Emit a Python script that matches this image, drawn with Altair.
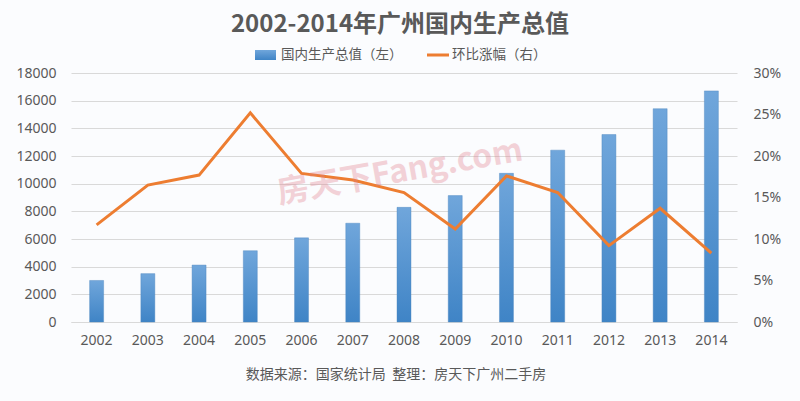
import altair as alt
import pandas as pd

years = ["2002", "2003", "2004", "2005", "2006", "2007", "2008",
         "2009", "2010", "2011", "2012", "2013", "2014"]
gdp = [3001.69, 3496.88, 4115.81, 5154.23, 6081.86, 7140.32, 8287.38,
       9138.21, 10748.28, 12423.44, 13551.21, 15420.14, 16706.87]
growth = [0.117, 0.165, 0.177, 0.252, 0.179, 0.171, 0.156,
          0.112, 0.176, 0.156, 0.092, 0.137, 0.083]
left_ticks = [0, 2000, 4000, 6000, 8000, 10000, 12000, 14000, 16000, 18000]
right_ticks = [0, 0.05, 0.10, 0.15, 0.20, 0.25, 0.30]

title_text = "2002-2014年广州国内生产总值"
legend_labels = ["国内生产总值（左）", "环比涨幅（右）"]
footer_text = "数据来源：国家统计局\u00a0\u00a0整理：房天下广州二手房"
watermark_text = "房天下Fang.com"

FONT = "Noto Sans"
CJK = "Noto Sans CJK SC"
GRAY = "#595959"
BLUE_TOP = "#70A6DB"
BLUE_BOT = "#3F84C6"
ORANGE = "#ED7D31"

df = pd.DataFrame({"年份": years, "国内生产总值": gdp, "环比涨幅": growth})

base = alt.Chart(df).encode(
    x=alt.X("年份:O",
            scale=alt.Scale(paddingInner=0, paddingOuter=0),
            axis=alt.Axis(title=None, labelAngle=0, ticks=False,
                          domainColor="#D9D9D9", labelFontSize=14,
                          labelColor=GRAY, labelFont=FONT, labelPadding=11))
)

grad = alt.Gradient(
    gradient="linear",
    stops=[alt.GradientStop(color=BLUE_TOP, offset=0),
           alt.GradientStop(color=BLUE_BOT, offset=1)],
    x1=0, x2=0, y1=0, y2=1,
)

bars = base.mark_bar(size=14, color=grad, stroke="#4A84BE", strokeWidth=0.4).encode(
    y=alt.Y("国内生产总值:Q",
            scale=alt.Scale(domain=[0, 18000], nice=False),
            axis=alt.Axis(title=None, values=left_ticks, format="d", domain=False, ticks=False,
                          gridColor="#D9D9D9", labelFontSize=14, labelColor=GRAY,
                          labelFont=FONT, labelPadding=15))
)

line = base.mark_line(color=ORANGE, strokeWidth=3).encode(
    y=alt.Y("环比涨幅:Q",
            scale=alt.Scale(domain=[0, 0.3], nice=False),
            axis=alt.Axis(title=None, orient="right", values=right_ticks, format=".0%",
                          domain=False, ticks=False, grid=False, labelFontSize=14,
                          labelColor=GRAY, labelFont=FONT, labelPadding=16))
)

one = pd.DataFrame({"k": [0]})

watermark = alt.Chart(pd.DataFrame({"t": [watermark_text]})).mark_text(
    font=CJK, fontSize=32, fontWeight="bold", color="#E07D8A", opacity=0.33,
    angle=350, align="center", baseline="middle"
).encode(x=alt.value(329), y=alt.value(99), text="t:N")

title = alt.Chart(pd.DataFrame({"t": [title_text]})).mark_text(
    font=CJK, fontSize=24, fontWeight="bold", color=GRAY,
    align="center", baseline="middle"
).encode(x=alt.value(329), y=alt.value(-48), text="t:N")

leg_rect = alt.Chart(one).mark_rect(color=grad).encode(
    x=alt.value(184), x2=alt.value(205), y=alt.value(-23), y2=alt.value(-13))
leg_line = alt.Chart(one).mark_rule(color=ORANGE, strokeWidth=3).encode(
    x=alt.value(356), x2=alt.value(378), y=alt.value(-18))
leg_t1 = alt.Chart(pd.DataFrame({"t": [legend_labels[0]]})).mark_text(
    font=CJK, fontSize=13.5, color=GRAY, align="left", baseline="middle"
).encode(x=alt.value(210), y=alt.value(-18), text="t:N")
leg_t2 = alt.Chart(pd.DataFrame({"t": [legend_labels[1]]})).mark_text(
    font=CJK, fontSize=13.5, color=GRAY, align="left", baseline="middle"
).encode(x=alt.value(381), y=alt.value(-18), text="t:N")

footer = alt.Chart(pd.DataFrame({"t": [footer_text]})).mark_text(
    font=CJK, fontSize=14, color=GRAY, align="center", baseline="middle"
).encode(x=alt.value(325), y=alt.value(302), text="t:N")

chart = alt.layer(
    bars, line, watermark, title, leg_rect, leg_line, leg_t1, leg_t2, footer
).resolve_scale(y="independent").properties(
    width=666, height=249,
    autosize=alt.AutoSizeParams(type="none"),
    padding={"left": 71, "top": 73, "right": 63, "bottom": 79},
    background="#FBFCFE",
).configure_view(stroke=None)

chart.save("out.html", embed_options={"renderer": "svg", "actions": False})
